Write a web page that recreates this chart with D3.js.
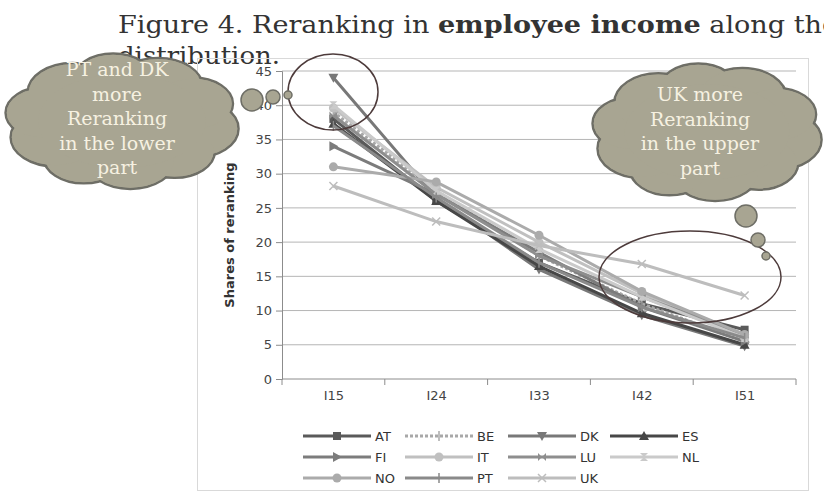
<!DOCTYPE html>
<html>
<head>
<meta charset="utf-8">
<script src="https://cdn.jsdelivr.net/npm/d3@7"></script>
<style>
  body { margin: 0; background: #fff; }
  svg { display: block; }
</style>
</head>
<body>
<div id="chart"></div>
<script>
// data
const categories = ['I15', 'I24', 'I33', 'I42', 'I51'];
const countries = ['AT', 'BE', 'DK', 'ES', 'FI', 'IT', 'LU', 'NL', 'NO', 'PT', 'UK'];
const AT = [38, 26, 17, 11, 7.2];
const BE = [39, 27.5, 18, 11, 5.5];
const DK = [44, 26.5, 16, 9.3, 4.8];
const ES = [37.3, 26, 16.5, 9.6, 5];
const FI = [34, 27, 18.5, 10.5, 5.5];
const IT = [39.6, 28, 20, 12.5, 6];
const LU = [38.5, 27, 18, 12, 6.5];
const NL = [40, 27.5, 19, 12, 6];
const NO = [31, 28.8, 21, 12.8, 6.5];
const PT = [37, 26.5, 17, 10.5, 6];
const UK = [28.2, 23, 19.5, 16.8, 12.2];
const yTicks = [0, 5, 10, 15, 20, 25, 30, 35, 40, 45];

const seriesValues = { AT, BE, DK, ES, FI, IT, LU, NL, NO, PT, UK };
const style = {
  AT: { color: '#5a5a5a', marker: 'square' },
  BE: { color: '#a8a8a8', marker: 'plus', dash: '3,2' },
  DK: { color: '#787878', marker: 'down' },
  ES: { color: '#474747', marker: 'up' },
  FI: { color: '#7c7c7c', marker: 'right' },
  IT: { color: '#c0c0c0', marker: 'circle' },
  LU: { color: '#8e8e8e', marker: 'bowtie' },
  NL: { color: '#cacaca', marker: 'hourglass' },
  NO: { color: '#ababab', marker: 'circle' },
  PT: { color: '#8a8a8a', marker: 'plus' },
  UK: { color: '#bdbdbd', marker: 'x' }
};

const W = 824, H = 499;
const svg = d3.select('#chart').append('svg').attr('width', W).attr('height', H);

// title
const title = svg.append('text').attr('x', 118).attr('y', 33)
  .attr('font-family', 'DejaVu Serif').attr('font-size', 25).attr('fill', '#333')
  .attr('textLength', 720).attr('lengthAdjust', 'spacingAndGlyphs');
title.append('tspan').text('Figure 4. Reranking in ');
title.append('tspan').attr('font-weight', 'bold').text('employee income');
title.append('tspan').text(' along the');
svg.append('text').attr('x', 118).attr('y', 64)
  .attr('font-family', 'DejaVu Serif').attr('font-size', 25).attr('fill', '#333')
  .attr('textLength', 162).attr('lengthAdjust', 'spacingAndGlyphs')
  .text('distribution.');

// chart frame
svg.append('rect').attr('x', 197.5).attr('y', 58.5).attr('width', 611).attr('height', 432)
  .attr('fill', 'none').attr('stroke', '#d9d9d9');

const plot = { left: 282, right: 796, top: 71, bottom: 379 };
const x = d3.scalePoint().domain(categories).range([plot.left, plot.right]).padding(0.5);
const y = d3.scaleLinear().domain([0, 45]).range([plot.bottom, plot.top]);

const g = svg.append('g');

// gridlines
g.selectAll('.grid').data(yTicks.slice(1)).enter().append('line')
  .attr('x1', plot.left).attr('x2', plot.right)
  .attr('y1', d => y(d)).attr('y2', d => y(d))
  .attr('stroke', '#b5b5b5').attr('stroke-width', 1);

// axes
const yAxis = g.append('g').attr('transform', `translate(${plot.left},0)`)
  .call(d3.axisLeft(y).tickValues(yTicks).tickSize(6).tickPadding(4));
const xAxis = g.append('g').attr('transform', `translate(0,${plot.bottom})`)
  .call(d3.axisBottom(x).tickSize(0).tickPadding(12));
// category boundaries ticks
const step = x.step();
g.selectAll('.xt').data(d3.range(categories.length + 1)).enter().append('line')
  .attr('x1', i => plot.left + i * step).attr('x2', i => plot.left + i * step)
  .attr('y1', plot.bottom).attr('y2', plot.bottom + 6).attr('stroke', '#8c8c8c');
[yAxis, xAxis].forEach(a => {
  a.select('.domain').attr('stroke', '#8c8c8c');
  a.selectAll('.tick line').attr('stroke', '#8c8c8c');
  a.selectAll('text').attr('font-family', 'DejaVu Sans').attr('font-size', 13).attr('fill', '#444');
});
xAxis.select('.domain').attr('d', `M${plot.left},0H${plot.right}`);

svg.append('text')
  .attr('transform', `translate(234,235) rotate(-90)`)
  .attr('text-anchor', 'middle').attr('font-family', 'DejaVu Sans').attr('font-weight', 'bold')
  .attr('font-size', 13).attr('fill', '#333').text('Shares of reranking');

function marker(sel, type, color, s) {
  if (type === 'square') {
    sel.append('rect').attr('x', -s).attr('y', -s).attr('width', 2 * s).attr('height', 2 * s).attr('fill', color);
  } else if (type === 'circle') {
    sel.append('circle').attr('r', s + 0.5).attr('fill', color);
  } else if (type === 'up') {
    sel.append('path').attr('d', `M0,${-s - 1}L${s + 1},${s}L${-s - 1},${s}Z`).attr('fill', color);
  } else if (type === 'down') {
    sel.append('path').attr('d', `M0,${s + 1}L${s + 1},${-s}L${-s - 1},${-s}Z`).attr('fill', color);
  } else if (type === 'right') {
    sel.append('path').attr('d', `M${s + 1},0L${-s},${-s - 1}L${-s},${s + 1}Z`).attr('fill', color);
  } else if (type === 'bowtie') {
    sel.append('path').attr('d', `M${-s},${-s}L${s},${s}L${s},${-s}L${-s},${s}Z`).attr('fill', color);
  } else if (type === 'hourglass') {
    sel.append('path').attr('d', `M${-s},${-s}L${s},${-s}L${-s},${s}L${s},${s}Z`).attr('fill', color);
  } else if (type === 'plus') {
    sel.append('path').attr('d', `M0,${-s - 1}V${s + 1}`).attr('stroke', color).attr('stroke-width', 1.5);
  } else if (type === 'x') {
    sel.append('path').attr('d', `M${-s},${-s}L${s},${s}M${-s},${s}L${s},${-s}`)
      .attr('stroke', color).attr('stroke-width', 1.5);
  }
}

const line = d3.line().x((d, i) => x(categories[i])).y(d => y(d));

countries.forEach(c => {
  const st = style[c];
  g.append('path').datum(seriesValues[c]).attr('d', line)
    .attr('fill', 'none').attr('stroke', st.color).attr('stroke-width', 3)
    .attr('stroke-dasharray', st.dash || null);
  seriesValues[c].forEach((v, i) => {
    const m = g.append('g').attr('transform', `translate(${x(categories[i])},${y(v)})`);
    marker(m, st.marker, st.color, 4);
  });
});

// legend
const legCols = [303, 405, 508, 610];
const legRows = [436, 457, 478];
countries.forEach((c, i) => {
  const st = style[c];
  const lx = legCols[i % 4], ly = legRows[Math.floor(i / 4)];
  const lg = svg.append('g').attr('transform', `translate(${lx},${ly})`);
  lg.append('line').attr('x1', 0).attr('x2', 68).attr('stroke', st.color).attr('stroke-width', 3)
    .attr('stroke-dasharray', st.dash || null);
  const m = lg.append('g').attr('transform', 'translate(34,0)');
  marker(m, st.marker, st.color, 4);
  lg.append('text').attr('x', 72).attr('y', 5).attr('font-family', 'DejaVu Sans')
    .attr('font-size', 13).attr('fill', '#333').text(c);
});

// annotation: ellipses
const ann = svg.append('g');
ann.append('ellipse').attr('cx', 333).attr('cy', 92).attr('rx', 45).attr('ry', 38)
  .attr('fill', 'none').attr('stroke', '#4d3b3b').attr('stroke-width', 1.5);
ann.append('ellipse').attr('cx', 690).attr('cy', 277).attr('rx', 91).attr('ry', 46)
  .attr('fill', 'none').attr('stroke', '#4d3b3b').attr('stroke-width', 1.5);

// clouds: bumps set round an oval
const cloudFill = '#a8a592', cloudStroke = '#6e6e66';
function cloud(cx, cy, w, h) {
  const bumps = d3.range(10).map(k => {
    const a = (k / 10) * 2 * Math.PI + 0.2;
    const r = k % 2 ? 0.17 : 0.19;
    return { x: cx + Math.cos(a) * (0.5 - r) * w, y: cy + Math.sin(a) * (0.48 - r) * h, rx: r * w, ry: r * h * 1.15 };
  });
  bumps.push({ x: cx, y: cy, rx: 0.36 * w, ry: 0.36 * h });
  const cg = ann.append('g');
  cg.selectAll('.o').data(bumps).enter().append('ellipse')
    .attr('cx', d => d.x).attr('cy', d => d.y).attr('rx', d => d.rx).attr('ry', d => d.ry)
    .attr('fill', cloudFill).attr('stroke', cloudStroke).attr('stroke-width', 2.5);
  cg.selectAll('.i').data(bumps).enter().append('ellipse')
    .attr('cx', d => d.x).attr('cy', d => d.y).attr('rx', d => d.rx - 1.2).attr('ry', d => d.ry - 1.2)
    .attr('fill', cloudFill);
}
function bubble(cx, cy, r) {
  ann.append('circle').attr('cx', cx).attr('cy', cy).attr('r', r)
    .attr('fill', cloudFill).attr('stroke', cloudStroke).attr('stroke-width', 1.5);
}
cloud(122, 121, 236, 134);
bubble(252, 100, 11); bubble(273, 97, 7); bubble(288, 95, 4);
cloud(707, 132, 232, 136);
bubble(746, 216, 11); bubble(758, 240, 7); bubble(766, 256, 4);

function cloudText(cx, y0, lines) {
  lines.forEach((t, i) => {
    ann.append('text').attr('x', cx).attr('y', y0 + i * 24.5).attr('text-anchor', 'middle')
      .attr('font-family', 'DejaVu Serif').attr('font-size', 19).attr('fill', '#f6f1e1').text(t);
  });
}
cloudText(117, 76, ['PT and DK', 'more', 'Reranking', 'in the lower', 'part']);
cloudText(700, 101, ['UK more', 'Reranking', 'in the upper', 'part']);
</script>
</body>
</html>
